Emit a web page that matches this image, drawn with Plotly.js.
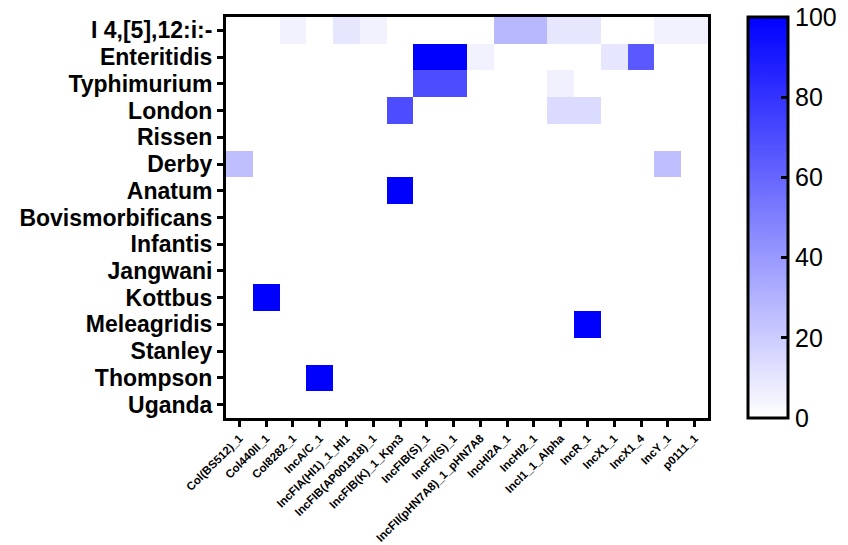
<!DOCTYPE html>
<html><head><meta charset="utf-8">
<script src="https://cdn.plot.ly/plotly-3.0.1.min.js"></script>
<style>html,body{margin:0;padding:0;background:#fff}#chart{width:848px;height:545px}</style>
</head><body><div id="chart"></div>
<script>
const plasmids = ["Col(BS512)_1","Col440II_1","Col8282_1","IncA/C_1","IncFIA(HI1)_1_HI1","IncFIB(AP001918)_1","IncFIB(K)_1_Kpn3","IncFIB(S)_1","IncFII(S)_1","IncFII(pHN7A8)_1_pHN7A8","IncHI2A_1","IncHI2_1","IncI1_1_Alpha","IncR_1","IncX1_1","IncX1_4","IncY_1","p0111_1"];
const serovars = ["I 4,[5],12:i:-","Enteritidis","Typhimurium","London","Rissen","Derby","Anatum","Bovismorbificans","Infantis","Jangwani","Kottbus","Meleagridis","Stanley","Thompson","Uganda"];
// percent values, one row per serovar, one column per plasmid
const values = [
  [0,0,5,0,10,5,0,0,0,0,28,28,10,10,0,0,5,5],
  [0,0,0,0,0,0,0,100,100,5,0,0,0,0,10,65,0,0],
  [0,0,0,0,0,0,0,70,70,0,0,0,6,0,0,0,0,0],
  [0,0,0,0,0,0,70,0,0,0,0,0,14,14,0,0,0,0],
  [0,0,0,0,0,0,0,0,0,0,0,0,0,0,0,0,0,0],
  [25,0,0,0,0,0,0,0,0,0,0,0,0,0,0,0,25,0],
  [0,0,0,0,0,0,100,0,0,0,0,0,0,0,0,0,0,0],
  [0,0,0,0,0,0,0,0,0,0,0,0,0,0,0,0,0,0],
  [0,0,0,0,0,0,0,0,0,0,0,0,0,0,0,0,0,0],
  [0,0,0,0,0,0,0,0,0,0,0,0,0,0,0,0,0,0],
  [0,100,0,0,0,0,0,0,0,0,0,0,0,0,0,0,0,0],
  [0,0,0,0,0,0,0,0,0,0,0,0,0,100,0,0,0,0],
  [0,0,0,0,0,0,0,0,0,0,0,0,0,0,0,0,0,0],
  [0,0,0,100,0,0,0,0,0,0,0,0,0,0,0,0,0,0],
  [0,0,0,0,0,0,0,0,0,0,0,0,0,0,0,0,0,0]
];
const cbTicks = [0,20,40,60,80,100];

const font = "Arial, 'Liberation Sans', sans-serif";
const trace = {
  type: "heatmap",
  x: plasmids, y: serovars, z: values,
  zmin: 0, zmax: 100,
  colorscale: [[0,"#ffffff"],[1,"#0000ff"]],
  xgap: 0, ygap: 0,
  colorbar: {
    x: 1.083, xanchor: "left", xref: "paper",
    y: 0.5, yanchor: "middle", len: 1, lenmode: "fraction",
    thickness: 40, thicknessmode: "pixels",
    outlinewidth: 3, outlinecolor: "#000",
    tickvals: cbTicks, ticktext: cbTicks.map(String),
    ticks: "inside", ticklen: 8, tickwidth: 3, tickcolor: "#000",
    tickfont: {family: font, size: 25, color: "#000"},
    xpad: 0, ypad: 0
  }
};
const layout = {
  width: 848, height: 545,
  margin: {l: 226, r: 140, t: 17, b: 127, autoexpand: false},
  paper_bgcolor: "#fff", plot_bgcolor: "#fff",
  font: {family: font, color: "#000"},
  xaxis: {
    type: "category", tickangle: -45,
    tickmode: "linear", tick0: 0, dtick: 1,
    tickfont: {family: font, size: 11.5, color: "#000", weight: "bold"},
    showline: true, linewidth: 3, linecolor: "#000", mirror: true,
    ticks: "outside", ticklen: 6, tickwidth: 3, tickcolor: "#000",
    showgrid: false, zeroline: false, automargin: false
  },
  yaxis: {
    type: "category", autorange: "reversed",
    tickmode: "linear", tick0: 0, dtick: 1,
    tickfont: {family: font, size: 23, color: "#000", weight: "bold"},
    showline: true, linewidth: 3, linecolor: "#000", mirror: true,
    ticks: "outside", ticklen: 6, tickwidth: 3, tickcolor: "#000",
    showgrid: false, zeroline: false, automargin: false
  }
};
Plotly.newPlot("chart", [trace], layout, {displayModeBar: false, staticPlot: true});
</script></body></html>
